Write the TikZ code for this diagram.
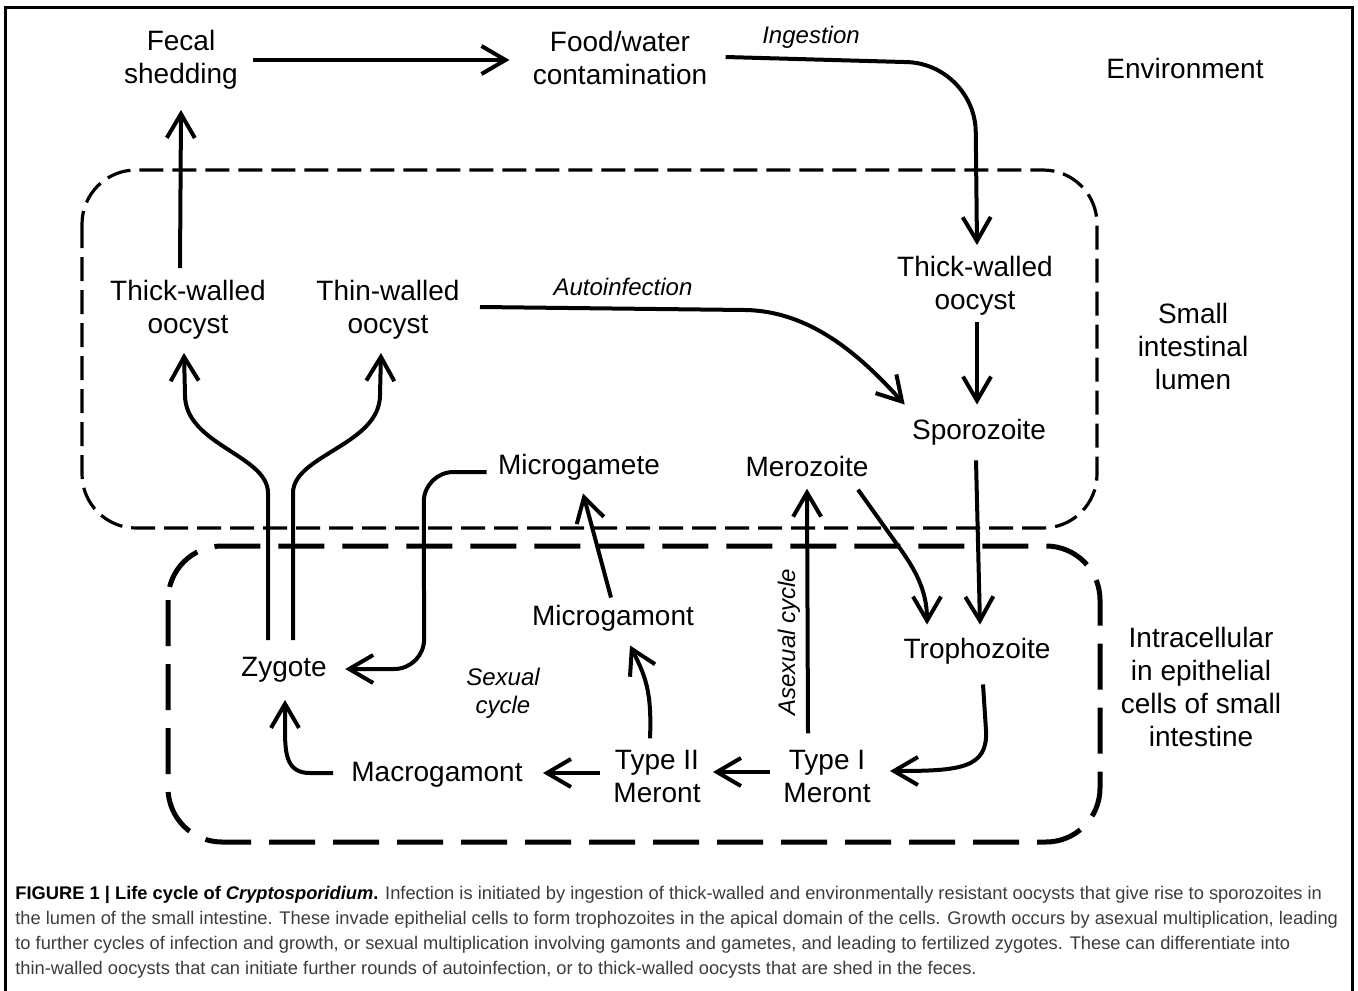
\documentclass[tikz,border=0pt]{standalone}
\usepackage{fontspec}
\setmainfont{Liberation Sans}
\usetikzlibrary{arrows.meta,calc}

\definecolor{capgray}{HTML}{3C3C3C}

\tikzset{
  stage/.style={font=\fontsize{14}{16.5}\selectfont, align=center, inner sep=2pt},
  cue/.style={font=\fontsize{12}{14}\selectfont\itshape, align=center, inner sep=1pt},
  flow/.style={line width=2pt, -{Straight Barb[length=12pt,width=14pt]}},
  lumenbox/.style={line width=1.6pt, dash pattern=on 12pt off 4.5pt, rounded corners=27pt},
  cellbox/.style={line width=2.5pt, dash pattern=on 23pt off 9pt, rounded corners=27pt},
}

\begin{document}
\begin{tikzpicture}[x=0.5pt, y=-0.5pt]
    \useasboundingbox (0,0) rectangle (1358,990);

    % frame and compartments
    \draw[line width=1.5pt] (5,1000) -- (5,8) -- (1352,8) -- (1352,1000);
    \draw[lumenbox] (82,170) rectangle (1097,528);
    \draw[cellbox] (168,546) rectangle (1100,842);

    % stages
    \node[stage] (fecal) at (181,60) {Fecal\\shedding};
    \node[stage] (food) at (620,58) {Food/water\\contamination};
    \node[cue] (ingest) at (811,37) {Ingestion};
    \node[stage] (env) at (1185,68) {Environment};
    \node[stage] (thickL) at (188,310) {Thick-walled\\oocyst};
    \node[stage] (thin) at (388,310) {Thin-walled\\oocyst};
    \node[cue] (autoinf) at (623,287) {Autoinfection};
    \node[stage] (thickR) at (975,286) {Thick-walled\\oocyst};
    \node[stage] (lumen) at (1193,346) {Small\\intestinal\\lumen};
    \node[stage] (sporo) at (979,432) {Sporozoite};
    \node[stage] (mgamete) at (579,467) {Microgamete};
    \node[stage] (merozoite) at (807,466) {Merozoite};
    \node[stage] (mgamont) at (613,618) {Microgamont};
    \node[stage] (tropho) at (977,651) {Trophozoite};
    \node[stage] (intra) at (1201,687) {Intracellular\\in epithelial\\cells of small\\intestine};
    \node[stage] (zygote) at (284,670) {Zygote};
    \node[cue] (sexual) at (503,693) {Sexual\\cycle};
    \node[cue, rotate=90] (asexual) at (789,642) {Asexual cycle};
    \node[stage] (macro) at (437,775) {Macrogamont};
    \node[stage] (type2) at (657,776) {Type II\\Meront};
    \node[stage] (type1) at (827,776) {Type I\\Meront};

    % environment
    \draw[flow] ($(fecal.east)+(11,0)$) -- ($(fecal.east -| food.west)+(-19,0)$);
    \draw[flow, rounded corners=34pt] ($(food.east)+(14,-1)$) -- ($(food.east -| thickR.north)+(0,6)$) -- ($(thickR.north)+(2,-7)$);
    \draw[flow] ($(thickL.north)+(-8,-8)$) -- ($(fecal.south)+(0,16)$);

    % lumen
    \draw[flow] ($(thin.east)+(16,-3)$) -- ($(thin.east)+(281,0)$)
        .. controls ($(thin.east)+(346,1)$) and ($(sporo.north west)+(-48,-60)$) .. ($(sporo.north west)+(-3,-10)$);
    \draw[flow] ($(thickR.south)+(2,2)$) -- ($(sporo.north)+(-2,-10)$);
    \draw[flow] ($(sporo.south)+(-3,11)$) -- ($(tropho.north)+(3,-9)$);
    \draw[flow] ($(merozoite.south)+(51,9)$) -- ($(merozoite.south)+(91,65)$)
        .. controls ($(merozoite.south)+(107,87)$) and ($(tropho.north)+(-50,-44)$) .. ($(tropho.north)+(-50,-9)$);

    % zygote to oocysts
    \draw[flow] ($(zygote.north)+(-16,-13)$) -- ($(zygote.north)+(-16,-160)$)
        .. controls ($(zygote.north)+(-16,-198)$) and ($(thickL.south)+(-3,101)$) .. ($(thickL.south)+(-3,51)$)
        -- ($(thickL.south)+(-4,9)$);
    \draw[flow] ($(zygote.north)+(9,-13)$) -- ($(zygote.north)+(9,-160)$)
        .. controls ($(zygote.north)+(9,-198)$) and ($(thin.south)+(-8,101)$) .. ($(thin.south)+(-8,51)$)
        -- ($(thin.south)+(-7,9)$);

    % intracellular
    \draw[flow] ($(tropho.south)+(6,16)$) -- ($(tropho.south)+(9,62)$)
        .. controls ($(tropho.south)+(11,100)$) and ($(type1.east)+(85,-5)$) .. ($(type1.east)+(15,-5)$);
    \draw[flow] ($(type1.north)+(-19,-12)$) -- ($(merozoite.south)+(0,8)$);
    \draw[flow] ($(type1.west)+(-9,-4)$) -- ($(type2.east)+(8,-4)$);
    \draw[flow] ($(type2.west)+(-9,-3)$) -- ($(macro.east)+(16,-2)$);
    \draw[flow] ($(type2.north)+(-7,-7)$)
        .. controls ($(type2.north)+(-5,-55)$) and ($(mgamont.south)+(32,40)$) .. ($(mgamont.south)+(17,10)$);
    \draw[flow] ($(mgamont.north)+(-2,-3)$) -- ($(mgamete.south)+(4,9)$);
    \draw[flow, rounded corners=15pt] ($(mgamete.west)+(-7,5)$) -- ($(mgamete.west)+(-70,5)$)
        -- ($(zygote.east)+(93,-1)$) -- ($(zygote.east)+(14,-1)$);
    \draw[flow] ($(macro.west)+(-14,-2)$) -- ($(macro.west)+(-37,-2)$)
        .. controls ($(macro.west)+(-60,-2)$) and ($(zygote.south)+(1,68)$) .. ($(zygote.south)+(1,43)$)
        -- ($(zygote.south)+(1,13)$);

    % caption
    \node[anchor=north west, align=left, inner sep=0pt, text=capgray,
          font=\fontsize{9.15}{12.5}\selectfont] (caption) at (15,886)
        {\textcolor{black}{\textbf{FIGURE 1 | Life cycle of \textit{Cryptosporidium}.}} Infection is initiated by ingestion of thick-walled and environmentally resistant oocysts that give rise to sporozoites in\\
         the lumen of the small intestine. These invade epithelial cells to form trophozoites in the apical domain of the cells. Growth occurs by asexual multiplication, leading\\
         to further cycles of infection and growth, or sexual multiplication involving gamonts and gametes, and leading to fertilized zygotes. These can differentiate into\\
         thin-walled oocysts that can initiate further rounds of autoinfection, or to thick-walled oocysts that are shed in the feces.};
\end{tikzpicture}
\end{document}
